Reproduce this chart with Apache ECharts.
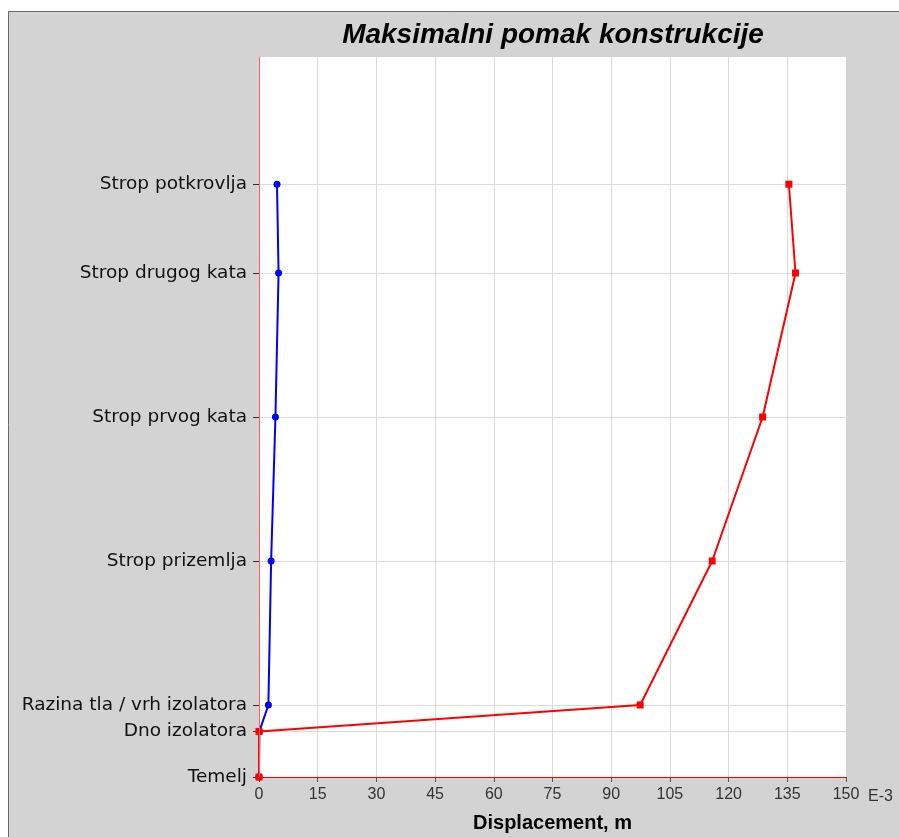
<!DOCTYPE html>
<html>
<head>
<meta charset="utf-8">
<script src="https://cdn.jsdelivr.net/npm/echarts@6/dist/echarts.min.js"></script>
<style>
  html, body { margin: 0; padding: 0; background: #fff; }
  #chart { width: 899px; height: 837px; }
</style>
</head>
<body>
<div id="chart"></div>
<script>
// Storey levels (height, m) and their names
const levelNames = ['Temelj', 'Dno izolatora', 'Razina tla / vrh izolatora', 'Strop prizemlja', 'Strop prvog kata', 'Strop drugog kata', 'Strop potkrovlja'];
const levelHeights = [0, 0.95, 1.5, 4.5, 7.5, 10.5, 12.35];

// Maximum displacement per level, in 1E-3 m
const blueDisp = [0, 0.1, 2.4, 3.1, 4.2, 5.0, 4.6];
const redDisp = [0, 0, 97.4, 115.8, 128.7, 137.1, 135.4];

// X axis ticks
const xTicks = [0, 15, 30, 45, 60, 75, 90, 105, 120, 135, 150];

const toPairs = (vals) => vals.map((v, i) => [v, levelHeights[i]]);

// Grid line colours per tick; lines on the plot edges stay hidden
const clear = 'rgba(0,0,0,0)';
const xGridColors = xTicks.map((_, i) => (i === 0 || i === xTicks.length - 1 ? clear : '#dcdcdc'));
const yGridColors = levelHeights.map((_, i) => (i === 0 ? clear : '#dcdcdc'));

const chart = echarts.init(document.getElementById('chart'), null, { renderer: 'canvas' });

chart.setOption({
  animation: false,
  backgroundColor: '#d3d3d3',
  graphic: [
    { type: 'rect', shape: { x: 0, y: 0, width: 899, height: 11 }, style: { fill: '#ffffff' }, silent: true },
    { type: 'rect', shape: { x: 0, y: 0, width: 8, height: 837 }, style: { fill: '#ffffff' }, silent: true },
    { type: 'line', shape: { x1: 8.5, y1: 11.5, x2: 899, y2: 11.5 }, style: { stroke: '#6a6a6a', lineWidth: 1 }, silent: true },
    { type: 'line', shape: { x1: 8.5, y1: 11.5, x2: 8.5, y2: 837 }, style: { stroke: '#6a6a6a', lineWidth: 1 }, silent: true },
    {
      type: 'text', x: 553, y: 35, silent: true,
      style: {
        text: 'Maksimalni pomak konstrukcije', align: 'center', verticalAlign: 'middle',
        font: 'italic bold 28px "Liberation Sans", Arial, sans-serif', fill: '#000'
      }
    },
    {
      type: 'text', x: 868, y: 797, silent: true,
      style: {
        text: 'E-3', align: 'left', verticalAlign: 'middle',
        font: '16px "Liberation Sans", Arial, sans-serif', fill: '#333'
      }
    }
  ],
  grid: {
    left: 259, right: 53, top: 57, bottom: 60,
    outerBoundsMode: 'none',
    containLabel: false,
    show: true, backgroundColor: '#ffffff', borderWidth: 0, borderColor: clear
  },
  xAxis: {
    type: 'value', min: 0, max: 150, interval: 15,
    name: 'Displacement, m', nameLocation: 'middle', nameGap: 36,
    nameTextStyle: { fontFamily: '"Liberation Sans", Arial, sans-serif', fontWeight: 'bold', fontSize: 20, color: '#000' },
    axisLine: { show: true, onZero: false, lineStyle: { color: '#ff0000', width: 1 } },
    axisTick: { show: true, length: 5, lineStyle: { color: '#555' } },
    axisLabel: {
      margin: 10, fontSize: 16, color: '#333',
      fontFamily: '"Liberation Sans", Arial, sans-serif',
      customValues: xTicks,
      formatter: (v) => String(v)
    },
    splitLine: { show: true, lineStyle: { color: xGridColors, width: 1 } }
  },
  yAxis: {
    type: 'value', min: 0, max: 15,
    axisLine: { show: true, onZero: false, lineStyle: { color: '#ff5c5c', width: 1 } },
    axisTick: { show: true, length: 6, customValues: levelHeights, lineStyle: { color: '#333' } },
    axisLabel: {
      margin: 12, fontSize: 18.5, color: '#111',
      fontFamily: '"DejaVu Sans", sans-serif',
      customValues: levelHeights,
      formatter: (v) => {
        const i = levelHeights.indexOf(v);
        return i >= 0 ? levelNames[i] : '';
      }
    },
    splitLine: { show: true, lineStyle: { color: yGridColors, width: 1 } }
  },
  series: [
    {
      type: 'line', data: toPairs(blueDisp),
      symbol: 'circle', symbolSize: 7, showSymbol: true,
      lineStyle: { color: '#0000ff', width: 2 },
      itemStyle: { color: '#0000ff' },
      z: 3,
      // red baselines along both axes of the plot
      markLine: {
        silent: true, symbol: 'none', animation: false,
        label: { show: false },
        emphasis: { disabled: true },
        data: [
          { yAxis: 0, lineStyle: { color: '#ff0000', width: 1, type: 'solid' } },
          { xAxis: 0, lineStyle: { color: '#ff5c5c', width: 1, type: 'solid' } }
        ]
      }
    },
    {
      type: 'line', data: toPairs(redDisp),
      symbol: 'rect', symbolSize: 7, showSymbol: true,
      lineStyle: { color: '#ff0000', width: 2 },
      itemStyle: { color: '#ff0000' },
      z: 4
    }
  ]
});
</script>
</body>
</html>
